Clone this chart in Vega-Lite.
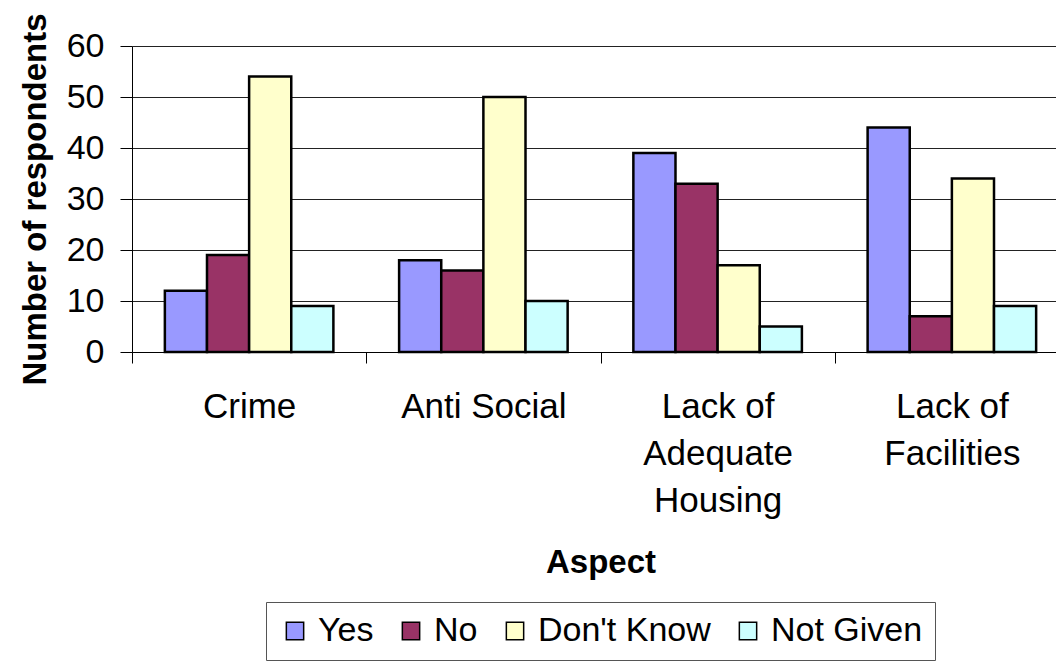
{
  "$schema": "https://vega.github.io/schema/vega-lite/v6.json",
  "width": 937,
  "height": 306,
  "padding": {"left": 19, "top": 12, "right": 0, "bottom": 0},
  "background": "white",
  "config": {
    "font": "Liberation Sans",
    "view": {"stroke": null},
    "axis": {"labelColor": "black", "titleColor": "black"},
    "legend": {"layout": {"bottom": {"anchor": "middle"}}}
  },
  "data": {
    "values": [
      {"aspect": "Crime", "response": "Yes", "count": 12},
      {"aspect": "Crime", "response": "No", "count": 19},
      {"aspect": "Crime", "response": "Don't Know", "count": 54},
      {"aspect": "Crime", "response": "Not Given", "count": 9},
      {"aspect": "Anti Social", "response": "Yes", "count": 18},
      {"aspect": "Anti Social", "response": "No", "count": 16},
      {"aspect": "Anti Social", "response": "Don't Know", "count": 50},
      {"aspect": "Anti Social", "response": "Not Given", "count": 10},
      {"aspect": "Lack of Adequate Housing", "response": "Yes", "count": 39},
      {"aspect": "Lack of Adequate Housing", "response": "No", "count": 33},
      {"aspect": "Lack of Adequate Housing", "response": "Don't Know", "count": 17},
      {"aspect": "Lack of Adequate Housing", "response": "Not Given", "count": 5},
      {"aspect": "Lack of Facilities", "response": "Yes", "count": 44},
      {"aspect": "Lack of Facilities", "response": "No", "count": 7},
      {"aspect": "Lack of Facilities", "response": "Don't Know", "count": 34},
      {"aspect": "Lack of Facilities", "response": "Not Given", "count": 9}
    ]
  },
  "mark": {"type": "bar", "stroke": "black", "strokeWidth": 2.5},
  "encoding": {
    "x": {
      "field": "aspect",
      "type": "nominal",
      "sort": ["Crime", "Anti Social", "Lack of Adequate Housing", "Lack of Facilities"],
      "scale": {"paddingInner": 0, "paddingOuter": 0},
      "axis": {
        "title": "Aspect",
        "titleFontSize": 33,
        "titleFontWeight": "bold",
        "titlePadding": 28,
        "labelAngle": 0,
        "labelFontSize": 35,
        "labelLineHeight": 47,
        "labelPadding": 26,
        "labelBaseline": "top",
        "tickBand": "extent",
        "tickSize": 11,
        "tickColor": "black",
        "domainColor": "black",
        "labelExpr": "datum.label == 'Lack of Adequate Housing' ? ['Lack of', 'Adequate', 'Housing'] : datum.label == 'Lack of Facilities' ? ['Lack of', 'Facilities'] : datum.label"
      }
    },
    "xOffset": {
      "field": "response",
      "type": "nominal",
      "sort": ["Yes", "No", "Don't Know", "Not Given"],
      "scale": {"paddingInner": 0, "paddingOuter": 0.78}
    },
    "y": {
      "field": "count",
      "type": "quantitative",
      "scale": {"domain": [0, 60]},
      "axis": {
        "title": "Number of respondents",
        "titleFontSize": 33,
        "titleFontWeight": "bold",
        "titlePadding": 14,
        "values": [0, 10, 20, 30, 40, 50, 60],
        "labelFontSize": 34,
        "labelPadding": 16,
        "tickSize": 12,
        "tickColor": "black",
        "domainColor": "black",
        "gridColor": "#222222",
        "gridOpacity": 1
      }
    },
    "color": {
      "field": "response",
      "type": "nominal",
      "sort": ["Yes", "No", "Don't Know", "Not Given"],
      "scale": {
        "domain": ["Yes", "No", "Don't Know", "Not Given"],
        "range": ["#9999FF", "#993366", "#FFFFCC", "#CCFFFF"]
      },
      "legend": {
        "title": null,
        "orient": "bottom",
        "direction": "horizontal",
        "offset": 23,
        "labelFontSize": 34,
        "labelColor": "black",
        "labelLimit": 400,
        "symbolType": "square",
        "symbolSize": 300,
        "symbolStrokeColor": "black",
        "symbolStrokeWidth": 1.5,
        "symbolOpacity": 1,
        "columnPadding": 20,
        "labelOffset": 6,
        "strokeColor": "#555555",
        "padding": 12
      }
    }
  }
}
